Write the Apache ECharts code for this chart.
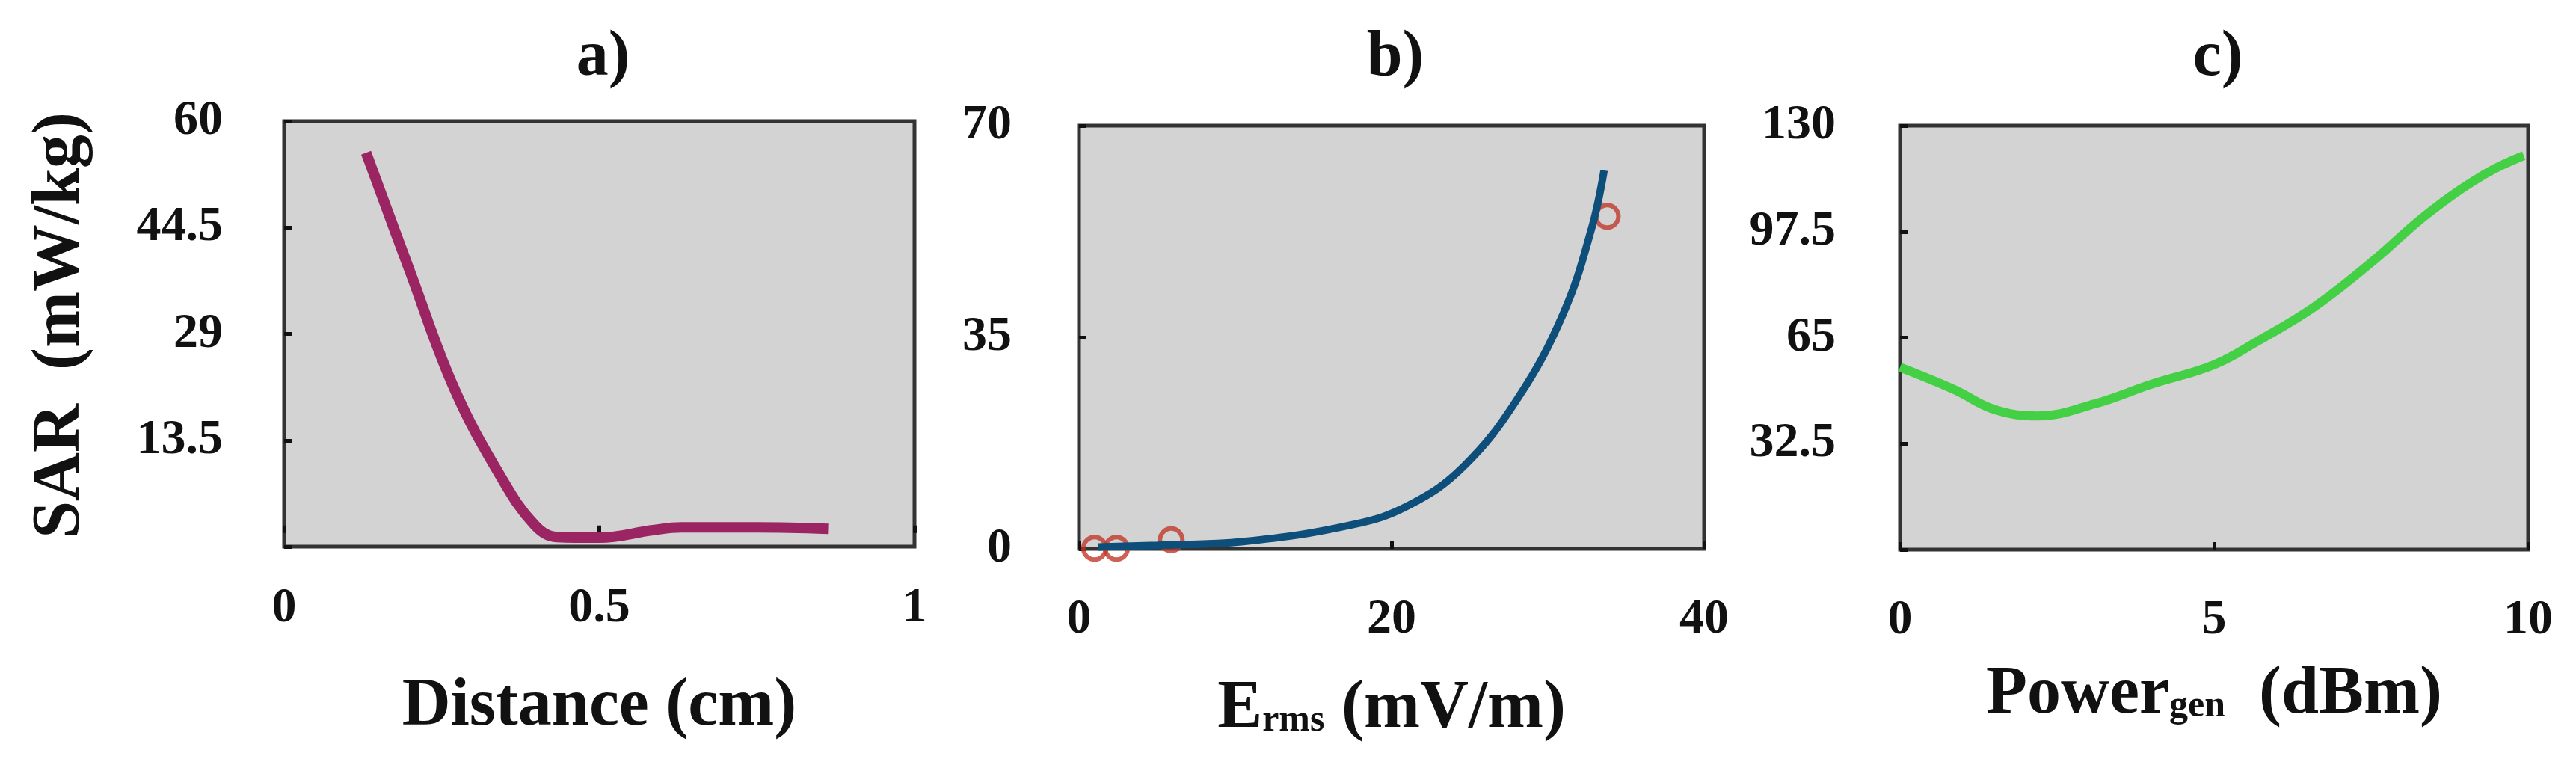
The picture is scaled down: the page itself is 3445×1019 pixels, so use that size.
<!DOCTYPE html>
<html><head><meta charset="utf-8">
<script src="https://cdn.jsdelivr.net/npm/echarts@6/dist/echarts.min.js"></script>
<style>html,body{margin:0;padding:0;background:#fff}#c{width:3445px;height:1019px}</style>
</head><body><div id="c"></div>
<script>
const titles = ['a)', 'b)', 'c)'];
const distX = [0.13, 0.2, 0.27, 0.343, 0.397, 0.433, 0.5, 0.585, 0.63, 0.75, 0.863];
const distSAR = [55.4, 38, 21, 8.3, 1.2, -0.6, -0.7, 0.4, 0.8, 0.8, 0.6];
const ermsX = [1.2, 5, 10.5, 17.5, 21.1, 24.6, 28.1, 31, 32.8, 33.6];
const ermsSAR = [0.3, 0.6, 1.2, 4, 7.2, 13.6, 25, 39, 53, 62.6];
const measX = [1.0, 2.4, 5.9, 33.8];
const measSAR = [0.1, 0.1, 1.5, 55];
const powX = [0, 0.87, 1.5, 2.2, 3.1, 4, 5, 5.7, 6.6, 7.5, 8.4, 9.3, 9.93];
const powSAR = [55.9, 49, 43, 41, 44.7, 50.7, 56.7, 64, 74.5, 88, 103, 115, 120.8];

const font = 'Liberation Serif';
const grids = [
  {left: 380, width: 843, top: 162, height: 569},
  {left: 1443, width: 836, top: 168, height: 566},
  {left: 2541, width: 840, top: 168, height: 567}
].map(g => Object.assign(g, {show: true, backgroundColor: '#d3d3d3', borderColor: '#333', borderWidth: 5}));

const lab = (m) => ({fontFamily: font, fontWeight: 'bold', fontSize: 66, color: '#111', margin: m});
const tick = {show: true, inside: true, length: 10, lineStyle: {color: '#111', width: 5}};
function xa(i, min, max, interval, name, m, gap) {
  return {gridIndex: i, type: 'value', min, max, interval, axisLine: {show: false}, axisTick: tick,
    splitLine: {show: false}, axisLabel: lab(m), name, nameLocation: 'middle', nameGap: gap,
    nameTextStyle: {fontFamily: font, fontWeight: 'bold', fontSize: 90, color: '#111',
      rich: {b: {fontFamily: font, fontWeight: 'bold', fontSize: 90, color: '#111'},
             s: {fontFamily: font, fontWeight: 'bold', fontSize: 50, color: '#111', padding: [30, 0, 0, 0]}}}};
}
function ya(i, min, max, interval, m, hide) {
  return {gridIndex: i, type: 'value', min, max, interval, axisLine: {show: false}, axisTick: tick,
    splitLine: {show: false},
    axisLabel: Object.assign(lab(m), {formatter: v => (hide.includes(v) ? '' : String(v))})};
}
const chart = echarts.init(document.getElementById('c'));
chart.setOption({
  animation: false,
  title: titles.map((t, i) => ({text: t, left: grids[i].left + grids[i].width / 2, top: 30, textAlign: 'center',
    textStyle: {fontFamily: font, fontWeight: 'bold', fontSize: 86, color: '#111'}})),
  graphic: [{type: 'text', rotation: Math.PI / 2, x: 82, y: 435,
    style: {text: 'SAR  (mW/kg)', fontFamily: font, fontWeight: 'bold', fontSize: 90, fill: '#111',
      textAlign: 'center', textVerticalAlign: 'middle'}}],
  grid: grids,
  xAxis: [
    xa(0, 0, 1, 0.5, '{b|Distance (cm)}', 50, 170),
    xa(1, 0, 40, 20, '{b|E}{s|rms}{b| (mV/m)}', 62, 170),
    xa(2, 0, 10, 5, '{b|Power}{s|gen}{b|  (dBm)}', 62, 150)
  ],
  yAxis: [
    ya(0, -2, 60, 15.5, 82, [-2]),
    ya(1, 0, 70, 35, 90, []),
    ya(2, 0, 130, 32.5, 86, [0])
  ],
  series: [
    {type: 'line', xAxisIndex: 0, yAxisIndex: 0, smooth: 0.4, showSymbol: false,
      lineStyle: {color: '#9b2462', width: 14}, data: distX.map((x, k) => [x, distSAR[k]])},
    {type: 'line', xAxisIndex: 1, yAxisIndex: 1, smooth: 0.4, showSymbol: false,
      lineStyle: {color: '#0d4f7a', width: 10}, data: ermsX.map((x, k) => [x, ermsSAR[k]])},
    {type: 'scatter', xAxisIndex: 1, yAxisIndex: 1, symbol: 'circle', symbolSize: 30,
      itemStyle: {color: 'transparent', borderColor: '#c0392b', borderWidth: 6},
      data: measX.map((x, k) => [x, measSAR[k]])},
    {type: 'line', xAxisIndex: 2, yAxisIndex: 2, smooth: 0.4, showSymbol: false,
      lineStyle: {color: '#44d044', width: 12}, data: powX.map((x, k) => [x, powSAR[k]])}
  ]
});
</script></body></html>
